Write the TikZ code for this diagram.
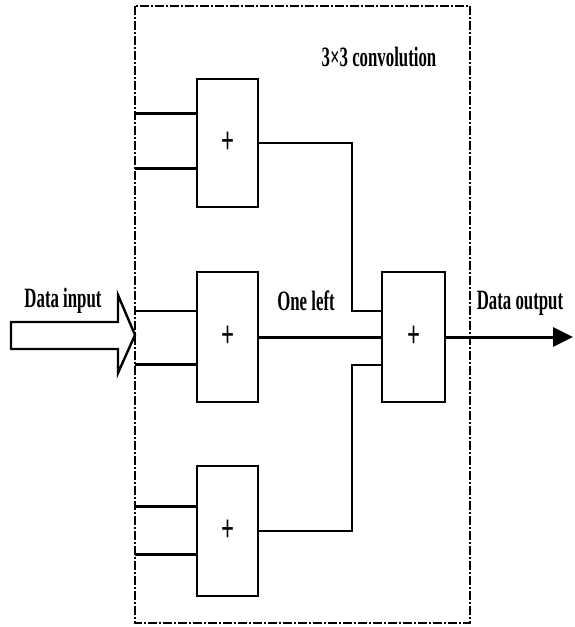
\documentclass[tikz,border=0pt]{standalone}
\usepackage{fontspec}
\setmainfont{Liberation Serif}
\usetikzlibrary{arrows.meta}
\newcommand{\lbl}[1]{\scalebox{0.6}[1]{\fontsize{28}{30}\selectfont\bfseries #1}}
\newcommand{\plussign}{\scalebox{0.6}[1]{\fontsize{38}{40}\selectfont\bfseries +}}
\tikzset{
  adder/.style={draw, line width=2pt, minimum width=61pt, minimum height=130pt, inner sep=0pt},
  wire/.style={line width=2.2pt},
  thinwire/.style={line width=1.6pt},
  thickwire/.style={line width=3pt},
  frame/.style={line width=2pt, dash pattern=on 9pt off 2pt on 2pt off 2pt},
  lab/.style={inner sep=0pt}
}
\begin{document}
\begin{tikzpicture}[x=1pt,y=-1pt]
\useasboundingbox (0,0) rectangle (575,627);
% frame
\draw[frame] (135,6) rectangle (470,623);
\node[lab] (conv) at (379,57) {\lbl{3×3 convolution}};
% adders
\node[adder, minimum height=128pt] (A1) at (227.5,143) {\plussign};
\node[adder] (A2) at (227.5,337) {\plussign};
\node[adder] (A3) at (227.5,531) {\plussign};
\node[adder, minimum width=63pt] (A4) at (413.5,337) {\plussign};
% input points on frame
\coordinate (i1) at (135,113);
\coordinate (i2) at (135,168);
\coordinate (i3) at (135,311);
\coordinate (i4) at (135,364);
\coordinate (i5) at (135,506);
\coordinate (i6) at (135,554);
\draw[thickwire] (i1) -- (i1 -| A1.west);
\draw[thickwire] (i2) -- (i2 -| A1.west);
\draw[thinwire] (i3) -- (i3 -| A2.west);
\draw[thickwire] (i4) -- (i4 -| A2.west);
\draw[thickwire] (i5) -- (i5 -| A3.west);
\draw[thickwire] (i6) -- (i6 -| A3.west);
% feeds to the final adder
\coordinate (j1) at (352,311);
\coordinate (j2) at (352,365);
\draw[wire] (A1.east) -| (j1) -- (j1 -| A4.west);
\draw[thickwire] (A2.east) -- (A4.west);
\draw[wire] (A3.east) -| (j2) -- (j2 -| A4.west);
\node[lab] (oneleft) at (306,301) {\lbl{One left}};
% output
\coordinate (out) at (573,337);
\draw[thickwire, -{Triangle[length=20pt,width=19pt]}] (A4.east) -- (out);
\node[lab] (dout) at (520,303) {\lbl{Data output}};
% hollow input arrow
\coordinate (tip) at (135,335);
\draw[line width=2.4pt, fill=white] (11,322) -- (118,322) -- (118,295) -- (tip) -- (118,373) -- (118,349) -- (11,349) -- cycle;
\node[lab] (din) at (63,301) {\lbl{Data input}};
\end{tikzpicture}
\end{document}
